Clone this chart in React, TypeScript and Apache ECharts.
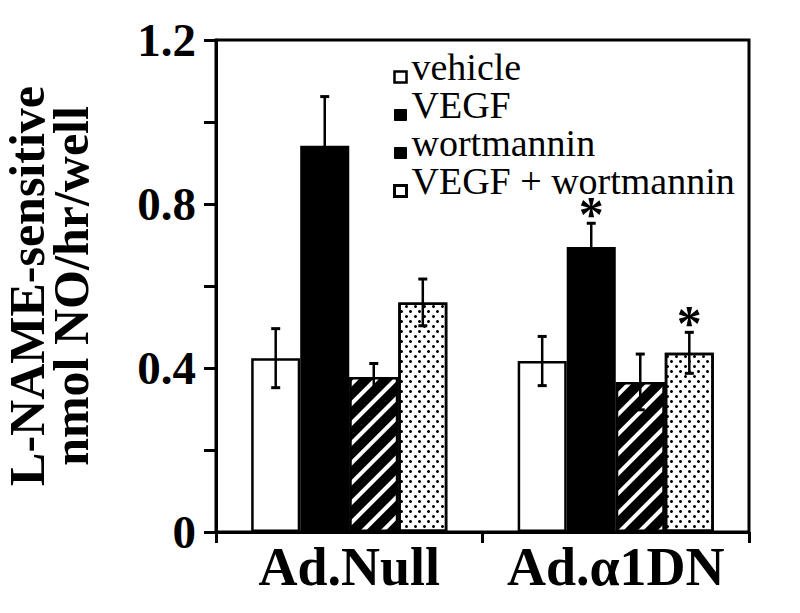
import { useEffect, useRef } from 'react';
import * as echarts from 'echarts';

const categories = ['Ad.Null', 'Ad.\u03b11DN'];
const seriesNames = ['vehicle', 'VEGF', 'wortmannin', 'VEGF + wortmannin'];
const vehicle = [0.424, 0.417];
const vehicleErr = [0.072, 0.06];
const vegf = [0.942, 0.695];
const vegfErr = [0.12, 0.058];
const wortmannin = [0.378, 0.366];
const wortmanninErr = [0.033, 0.068];
const combo = [0.56, 0.437];
const comboErr = [0.057, 0.05];
const vehicleMarks = ['', ''];
const vegfMarks = ['', '*'];
const wortmanninMarks = ['', ''];
const comboMarks = ['', '*'];
const yTickLabels = ['0', '0.4', '0.8', '1.2'];

const SERIF = '"Liberation Serif", "Times New Roman", serif';
const BAR_FRAC = 0.184;

export default function App() {
  const ref = useRef<HTMLDivElement>(null);
  useEffect(() => {
    if (!ref.current) return;
    const chart = echarts.init(ref.current, null, { renderer: 'svg' });

    const values = [vehicle, vegf, wortmannin, combo];
    const errs = [vehicleErr, vegfErr, wortmanninErr, comboErr];
    const marks = [vehicleMarks, vegfMarks, wortmanninMarks, comboMarks];

    const barStyles: any[] = [
      { color: '#fff', borderColor: '#000', borderWidth: 2.5 },
      { color: '#000', borderColor: '#000', borderWidth: 2.5 },
      {
        color: '#000', borderColor: '#000', borderWidth: 2.5,
        decal: { symbol: 'rect', color: '#fff', dashArrayX: [1, 0], dashArrayY: [4, 10], rotation: -Math.PI / 4, symbolSize: 1 },
      },
      {
        color: '#fff', borderColor: '#000', borderWidth: 2.5,
        decal: { symbol: 'circle', color: '#000', symbolSize: 1, dashArrayX: [[2.5, 5.5], [0, 4, 2.5, 1.5]], dashArrayY: [2.5, 1.5], rotation: 0 },
      },
    ];

    const barSeries = seriesNames.map((name, k) => ({
      name,
      type: 'bar',
      barWidth: (BAR_FRAC * 100) + '%',
      barGap: '0%',
      itemStyle: barStyles[k],
      data: values[k],
      z: 2,
    }));

    const errSeries = seriesNames.map((name, k) => ({
      name: name + ' error',
      type: 'custom',
      z: 10,
      data: values[k].map((v, i) => [i, v, errs[k][i]]),
      renderItem: (params: any, api: any) => {
        const ci = api.value(0);
        const v = api.value(1);
        const e = api.value(2);
        const bw = api.size([1, 0])[0] * BAR_FRAC;
        const cx = api.coord([ci, 0])[0] + (k - 1.5) * bw;
        const yTop = api.coord([ci, v + e])[1];
        const yBot = api.coord([ci, v - e])[1];
        const ls = { stroke: '#000', lineWidth: 2.5 };
        const children: any[] = [
          { type: 'line', shape: { x1: cx, y1: yBot, x2: cx, y2: yTop }, style: ls },
          { type: 'line', shape: { x1: cx - 4.5, y1: yTop, x2: cx + 4.5, y2: yTop }, style: { stroke: '#000', lineWidth: 3 } },
          { type: 'line', shape: { x1: cx - 4.5, y1: yBot, x2: cx + 4.5, y2: yBot }, style: { stroke: '#000', lineWidth: 3 } },
        ];
        const m = marks[k][params.dataIndex];
        if (m) {
          children.push({
            type: 'text',
            style: { text: m, x: cx, y: yTop - 9, align: 'center', verticalAlign: 'middle', fill: '#000', font: 'bold 50px ' + SERIF },
          });
        }
        return { type: 'group', children };
      },
    }));

    chart.setOption({
      animation: false,
      backgroundColor: '#fff',
      grid: { left: 216, right: 51, top: 40, bottom: 81, show: true, borderColor: '#000', borderWidth: 3, containLabel: false, outerBoundsMode: 'none' },
      legend: {
        orient: 'vertical',
        left: 388,
        top: 43,
        itemWidth: 12,
        itemHeight: 11,
        itemGap: -20,
        icon: 'rect',
        selectedMode: false,
        formatter: '{a|{name}}',
        textStyle: {
          fontFamily: SERIF, fontSize: 38, color: '#000',
          rich: { a: { fontFamily: SERIF, fontSize: 38, color: '#000', lineHeight: 35, padding: [0, 0, 20, 0] } },
        },
        data: [
          { name: 'vehicle', itemStyle: { color: '#fff', borderColor: '#000', borderWidth: 2.5, decal: 'none' } },
          { name: 'VEGF', itemStyle: { color: '#000', borderColor: '#000', borderWidth: 1, decal: 'none' } },
          { name: 'wortmannin', itemStyle: { color: '#000', borderColor: '#000', borderWidth: 1, decal: 'none' } },
          { name: 'VEGF + wortmannin', itemStyle: { color: '#fff', borderColor: '#000', borderWidth: 3, decal: 'none' } },
        ],
      },
      xAxis: {
        type: 'category',
        data: categories,
        axisLine: { show: true, lineStyle: { color: '#000', width: 3 } },
        axisTick: { show: true, length: 11, lineStyle: { color: '#000', width: 3 } },
        axisLabel: { color: '#000', fontFamily: SERIF, fontSize: 54, fontWeight: 'bold', margin: 8, interval: 0, hideOverlap: false },
      },
      yAxis: {
        type: 'value',
        min: 0,
        max: 1.2,
        interval: 0.2,
        splitLine: { show: false },
        axisLine: { show: true, lineStyle: { color: '#000', width: 3 } },
        axisTick: { show: true, length: 12, lineStyle: { color: '#000', width: 3 } },
        axisLabel: {
          color: '#000', fontFamily: SERIF, fontSize: 47, fontWeight: 'bold', margin: 20,
          formatter: (val: number) => {
            const r = Math.round(val / 0.4);
            return Math.abs(val / 0.4 - r) < 1e-6 ? yTickLabels[r] : '';
          },
        },
        name: 'L-NAME-sensitive\nnmol NO/hr/well',
        nameLocation: 'middle',
        nameGap: 123,
        nameTextStyle: { color: '#000', fontFamily: SERIF, fontSize: 50, fontWeight: 'bold', lineHeight: 44 },
      },
      series: [...barSeries, ...errSeries],
    });
    return () => chart.dispose();
  }, []);
  return <div ref={ref} style={{ position: 'absolute', left: 0, top: 0, width: 800, height: 613 }} />;
}
